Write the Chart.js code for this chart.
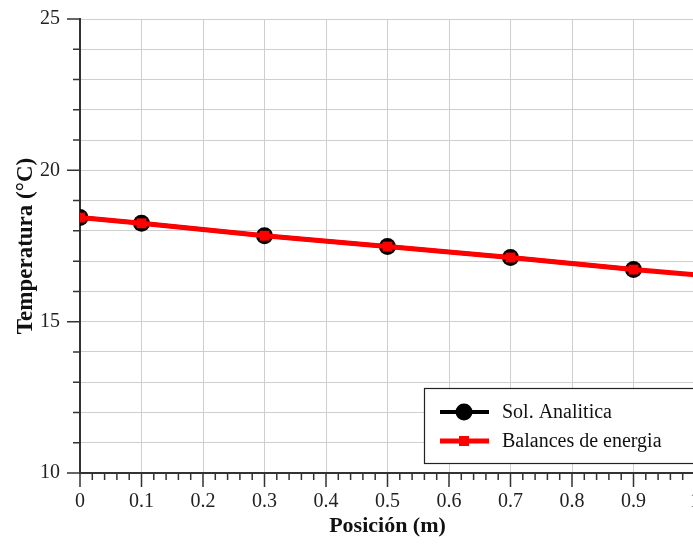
<!DOCTYPE html>
<html>
<head>
<meta charset="utf-8">
<script src="https://cdn.jsdelivr.net/npm/chart.js@4/dist/chart.umd.min.js"></script>
<style>
  html, body { margin: 0; padding: 0; background: #fff; overflow: hidden; }
  #wrap { width: 717px; height: 546px; }
</style>
</head>
<body>
<div id="wrap"><canvas id="temp"></canvas></div>
<script>
const posAnalitica = [0, 0.1, 0.3, 0.5, 0.7, 0.9];
const tempAnalitica = [18.44, 18.25, 17.84, 17.48, 17.12, 16.72];
const posBalances = [0, 0.1, 0.3, 0.5, 0.7, 0.9, 1.0];
const tempBalances = [18.44, 18.25, 17.84, 17.48, 17.12, 16.72, 16.55];
const xTickLabels = ['0', '0.1', '0.2', '0.3', '0.4', '0.5', '0.6', '0.7', '0.8', '0.9', '1'];
const yTickLabels = [10, 15, 20, 25];

const serif = "'Liberation Serif', 'Times New Roman', serif";

// tick marks (major + minor) and the boxed legend inside the plot
const axisMarks = {
  id: 'axisMarks',
  afterDraw(chart) {
    const ctx = chart.ctx;
    const x = chart.scales.x, y = chart.scales.y;
    const x0 = x.getPixelForValue(0), y0 = y.getPixelForValue(10);
    ctx.save();
    ctx.strokeStyle = '#333';
    ctx.lineWidth = 1.5;
    ctx.beginPath();
    for (let i = 0; i <= 50; i++) {
      const px = x.getPixelForValue(i * 0.02);
      const len = i % 5 === 0 ? 14 : 7;
      ctx.moveTo(px, y0);
      ctx.lineTo(px, y0 + len);
    }
    for (let v = 10; v <= 25; v++) {
      const py = y.getPixelForValue(v);
      const len = v % 5 === 0 ? 13 : 7;
      ctx.moveTo(x0, py);
      ctx.lineTo(x0 - len, py);
    }
    ctx.stroke();

    // legend
    const bx = 424, by = 388, bw = 270, bh = 75;
    ctx.fillStyle = '#fff';
    ctx.fillRect(bx, by, bw, bh);
    ctx.strokeStyle = '#222';
    ctx.lineWidth = 1.2;
    ctx.strokeRect(bx + 0.5, by + 0.5, bw, bh);
    const rows = [412, 441];
    chart.data.datasets.forEach((ds, i) => {
      const ry = rows[i];
      ctx.strokeStyle = ds.borderColor;
      ctx.lineWidth = ds.borderWidth;
      ctx.beginPath();
      ctx.moveTo(440, ry);
      ctx.lineTo(489, ry);
      ctx.stroke();
      ctx.fillStyle = ds.pointBackgroundColor;
      if (ds.pointStyle === 'circle') {
        ctx.beginPath();
        ctx.arc(464, ry, 8.5, 0, Math.PI * 2);
        ctx.fill();
      } else {
        ctx.fillRect(459, ry - 5, 10, 10);
      }
      ctx.fillStyle = '#111';
      ctx.font = '20px ' + serif;
      ctx.textBaseline = 'middle';
      ctx.textAlign = 'left';
      ctx.fillText(ds.label, 502, ry + 1);
    });
    ctx.restore();
  }
};

new Chart(document.getElementById('temp'), {
  type: 'line',
  data: {
    datasets: [
      {
        label: 'Sol. Analitica',
        data: posAnalitica.map((p, i) => ({ x: p, y: tempAnalitica[i] })),
        borderColor: '#000',
        borderWidth: 4,
        pointStyle: 'circle',
        pointRadius: 8.5,
        pointBackgroundColor: '#000',
        pointBorderWidth: 0,
        clip: 0,
        order: 1
      },
      {
        label: 'Balances de energia',
        data: posBalances.map((p, i) => ({ x: p, y: tempBalances[i] })),
        borderColor: '#ff0000',
        borderWidth: 5,
        pointStyle: 'rect',
        pointRadius: ctx => (ctx.raw && ctx.raw.x > 0.95 ? 0 : 7),
        pointBackgroundColor: '#ff0000',
        pointBorderWidth: 0,
        clip: 0,
        order: 0
      }
    ]
  },
  options: {
    responsive: true,
    maintainAspectRatio: false,
    animation: false,
    layout: { padding: 0 },
    plugins: {
      legend: { display: false },
      tooltip: { enabled: false }
    },
    scales: {
      x: {
        type: 'linear',
        min: 0,
        max: 1,
        afterFit: s => { s.height = 73; },
        ticks: {
          stepSize: 0.1,
          color: '#222',
          padding: 17,
          maxRotation: 0,
          font: { family: serif, size: 20 },
          callback: (v, i) => xTickLabels[i]
        },
        grid: { color: '#cfcfcf', lineWidth: 1, drawTicks: false },
        border: { color: '#333', width: 2 },
        title: {
          display: true,
          text: 'Posición (m)',
          color: '#111',
          font: { family: serif, size: 22, weight: 'bold' },
          padding: { bottom: 6, top: 0 }
        }
      },
      y: {
        min: 10,
        max: 25,
        afterFit: s => { s.width = 80; s.paddingTop = 19; s.paddingBottom = 0; },
        ticks: {
          stepSize: 1,
          color: '#222',
          padding: 20,
          font: { family: serif, size: 20 },
          callback: v => (yTickLabels.includes(v) ? String(v) : '')
        },
        grid: { color: '#cfcfcf', lineWidth: 1, drawTicks: false },
        border: { color: '#333', width: 2 },
        title: {
          display: true,
          text: 'Temperatura (°C)',
          color: '#111',
          font: { family: serif, size: 23, weight: 'bold' },
          padding: { top: 12, bottom: 0 }
        }
      }
    }
  },
  plugins: [axisMarks]
});
</script>
</body>
</html>
